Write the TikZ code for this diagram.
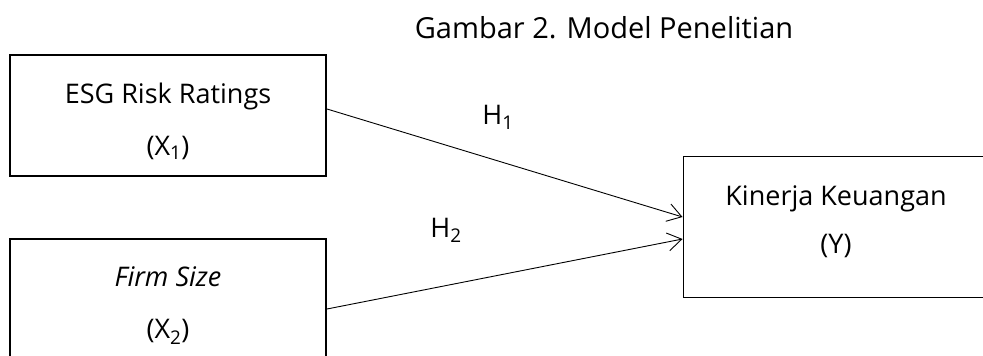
\documentclass[tikz,border=0pt]{standalone}
\usepackage{fontspec}
\setmainfont{Open Sans}
\usetikzlibrary{arrows.meta}

\begin{document}
\begin{tikzpicture}[x=1pt,y=-1pt,
  varbox/.style={draw,line width=2pt,minimum width=316pt,minimum height=121pt,align=center,inner sep=0pt,font=\fontsize{27}{52}\selectfont},
  ybox/.style={draw,line width=0.9pt,minimum width=306pt,minimum height=141pt,align=center,inner sep=0pt,font=\fontsize{27}{48}\selectfont},
  hyp/.style={font=\fontsize{27}{30}\selectfont},
  arr/.style={line width=0.9pt,-{Straight Barb[length=14pt,width=18pt]}}]
\useasboundingbox (0,0) rectangle (983,356);
\clip (0,0) rectangle (983,356);
\node[hyp,font=\fontsize{29}{32}\selectfont] (title) at (604,28) {Gambar 2. Model Penelitian};
\node[varbox] (esg) at (168,115.5) {\rule{0pt}{32pt}ESG Risk Ratings\\(X\textsubscript{1})};
\node[varbox] (size) at (168,299.5) {\rule{0pt}{32pt}\textit{Firm Size}\\(X\textsubscript{2})};
\node[ybox] (kin) at (836,226.5) {Kinerja Keuangan\\(Y)\rule[-14pt]{0pt}{14pt}};
\node[hyp] (h1) at (498,117) {H\textsubscript{1}};
\node[hyp] (h2) at (446,230) {H\textsubscript{2}};
\draw[arr] ([yshift=6.5pt]esg.east) -- ([yshift=9.5pt]kin.west);
\draw[arr] ([yshift=-9.5pt]size.east) -- ([yshift=-12.5pt]kin.west);
\end{tikzpicture}
\end{document}
